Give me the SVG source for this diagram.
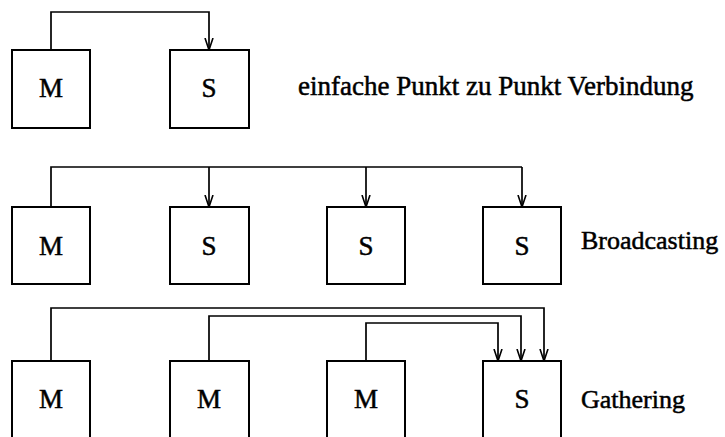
<svg xmlns="http://www.w3.org/2000/svg" width="725" height="437" viewBox="0 0 725 437">
  <style>
    .box { fill: #fff; stroke: #000; stroke-width: 2; }
    .wire { fill: none; stroke: #000; stroke-width: 1.7; }
    text { font-family: 'Liberation Serif', 'Times New Roman', Tinos, 'DejaVu Serif', serif; fill: #000; stroke: #000; stroke-width: 0.5; }
    .lbl { font-size: 27px; text-anchor: middle; }
    .cap { font-size: 26px; }
  </style>
  <defs>
    <marker id="arrow" viewBox="0 0 12 10" refX="12" refY="5" markerWidth="12" markerHeight="10" markerUnits="userSpaceOnUse" orient="auto">
      <path d="M0,1 L12,5 L0,9" fill="none" stroke="#000" stroke-width="1.6"/>
    </marker>
  </defs>

  <!-- connectors -->
  <g id="connectors" class="wire">
    <!-- point to point -->
    <path d="M51,50 V12 H209 V50" marker-end="url(#arrow)"/>
    <!-- broadcasting -->
    <path d="M51,207 V167 H522"/>
    <path d="M209,167 V207" marker-end="url(#arrow)"/>
    <path d="M366,167 V207" marker-end="url(#arrow)"/>
    <path d="M522,167 V207" marker-end="url(#arrow)"/>
    <!-- gathering -->
    <path d="M51,361 V308 H544 V361" marker-end="url(#arrow)"/>
    <path d="M209,361 V316 H521 V361" marker-end="url(#arrow)"/>
    <path d="M366,361 V323 H498 V361" marker-end="url(#arrow)"/>
  </g>

  <!-- row 1: simple point-to-point -->
  <g id="r1-m"><rect class="box" x="12" y="50" width="78" height="78"/><text class="lbl" x="51" y="97">M</text></g>
  <g id="r1-s"><rect class="box" x="170" y="50" width="79" height="78"/><text class="lbl" x="209" y="97">S</text></g>
  <text class="cap" x="298" y="95" style="font-size:27px">einfache Punkt zu Punkt Verbindung</text>

  <!-- row 2: broadcasting -->
  <g id="r2-m"><rect class="box" x="12" y="207" width="78" height="77"/><text class="lbl" x="51" y="255">M</text></g>
  <g id="r2-s1"><rect class="box" x="170" y="207" width="79" height="77"/><text class="lbl" x="209" y="255">S</text></g>
  <g id="r2-s2"><rect class="box" x="327" y="207" width="78" height="77"/><text class="lbl" x="366" y="255">S</text></g>
  <g id="r2-s3"><rect class="box" x="483" y="207" width="78" height="77"/><text class="lbl" x="522" y="255">S</text></g>
  <text class="cap" x="581" y="249">Broadcasting</text>

  <!-- row 3: gathering -->
  <g id="r3-m1"><rect class="box" x="12" y="361" width="78" height="90"/><text class="lbl" x="51" y="408">M</text></g>
  <g id="r3-m2"><rect class="box" x="170" y="361" width="79" height="90"/><text class="lbl" x="209" y="408">M</text></g>
  <g id="r3-m3"><rect class="box" x="327" y="361" width="78" height="90"/><text class="lbl" x="366" y="408">M</text></g>
  <g id="r3-s"><rect class="box" x="483" y="361" width="78" height="90"/><text class="lbl" x="522" y="408">S</text></g>
  <text class="cap" x="581" y="408">Gathering</text>
</svg>
